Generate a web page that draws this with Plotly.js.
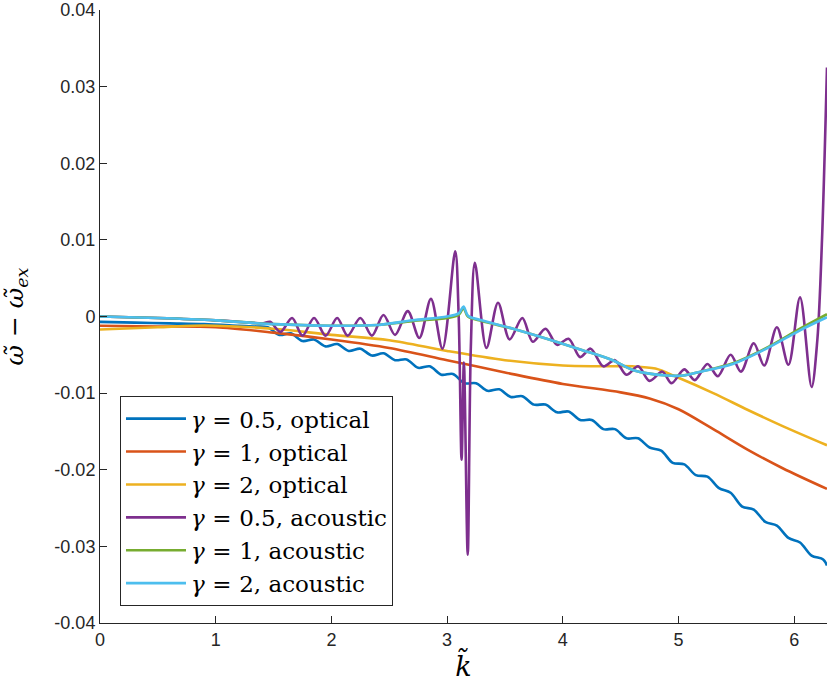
<!DOCTYPE html>
<html>
<head>
<meta charset="utf-8">
<script src="https://cdn.plot.ly/plotly-3.0.1.min.js"></script>
<style>html,body{margin:0;padding:0;background:#fff}#chart{width:830px;height:688px}</style>
</head>
<body>
<div id="chart"></div>
<script>
// gamma = 0.5, optical
const kBlue = [0, 0.3, 0.6, 0.9, 1.2, 1.35, 1.45, 1.55, 1.65, 1.75, 1.85, 1.95, 2.05, 2.15, 2.25, 2.35, 2.45, 2.55, 2.65, 2.75, 2.85, 2.95, 3.05, 3.15, 3.25, 3.35, 3.45, 3.55, 3.65, 3.75, 3.85, 3.95, 4.05, 4.15, 4.25, 4.35, 4.45, 4.55, 4.65, 4.75, 4.85, 4.95, 5.05, 5.15, 5.25, 5.35, 5.45, 5.55, 5.65, 5.75, 5.85, 5.95, 6.05, 6.15, 6.25, 6.283];
const vBlue = [-0.0007, -0.0008, -0.0009, -0.0010, -0.0012, -0.0013, -0.0014, -0.0024, -0.0022, -0.0032, -0.0030, -0.0039, -0.0036, -0.0045, -0.0042, -0.0051, -0.0048, -0.0057, -0.0056, -0.0067, -0.0065, -0.0076, -0.0075, -0.0087, -0.0087, -0.0097, -0.0095, -0.0105, -0.0104, -0.0115, -0.0115, -0.0125, -0.0124, -0.0135, -0.0135, -0.0147, -0.0147, -0.0159, -0.0159, -0.0171, -0.0175, -0.0191, -0.0193, -0.0207, -0.0209, -0.0224, -0.0230, -0.0248, -0.0252, -0.0268, -0.0273, -0.0289, -0.0295, -0.0312, -0.0317, -0.0325];

// gamma = 1, optical
const kRed = [0, 0.5, 1.0, 1.5, 2.0, 2.5, 3.0, 3.5, 4.0, 4.5, 4.75, 5.0, 5.3, 5.6, 5.9, 6.283];
const vRed = [-0.0012, -0.0013, -0.0014, -0.0021, -0.0030, -0.0041, -0.0057, -0.0073, -0.0088, -0.0099, -0.0107, -0.0121, -0.0147, -0.0174, -0.0198, -0.0225];

// gamma = 2, optical
const kOrange = [0, 0.5, 0.8, 1.0, 1.5, 2.0, 2.5, 3.0, 3.5, 4.0, 4.3, 4.6, 4.8, 5.0, 5.3, 5.6, 5.9, 6.283];
const vOrange = [-0.0017, -0.0014, -0.0012, -0.0012, -0.0016, -0.0024, -0.0031, -0.0045, -0.0057, -0.0064, -0.0065, -0.0065, -0.0068, -0.0080, -0.0100, -0.0122, -0.0143, -0.0168];

// gamma = 0.5, acoustic
const kPurple = [0, 0.5, 1.0, 1.3, 1.41, 1.47, 1.56, 1.66, 1.75, 1.85, 1.95, 2.05, 2.14, 2.25, 2.35, 2.45, 2.55, 2.66, 2.76, 2.86, 2.96, 3.07, 3.10, 3.125, 3.145, 3.178, 3.205, 3.24, 3.34, 3.44, 3.54, 3.65, 3.74, 3.85, 3.95, 4.05, 4.15, 4.24, 4.35, 4.45, 4.55, 4.65, 4.75, 4.86, 4.94, 5.05, 5.14, 5.25, 5.34, 5.45, 5.54, 5.65, 5.74, 5.85, 5.95, 6.05, 6.15, 6.2, 6.24, 6.283];
const vPurple = [0, -0.0002, -0.0005, -0.0008, -0.0009, -0.0007, -0.0020, -0.0002, -0.0025, -0.0002, -0.0025, -0.0002, -0.0025, -0.0002, -0.0025, 0.0002, -0.0024, 0.0007, -0.0028, 0.0023, -0.0042, 0.0085, 0.0000, -0.0187, -0.0060, -0.0311, -0.0040, 0.0070, -0.0041, 0.0018, -0.0030, -0.0002, -0.0033, -0.0016, -0.0037, -0.0029, -0.0053, -0.0042, -0.0065, -0.0057, -0.0076, -0.0065, -0.0084, -0.0072, -0.0087, -0.0069, -0.0083, -0.0062, -0.0078, -0.0050, -0.0072, -0.0035, -0.0064, -0.0014, -0.0063, 0.0025, -0.0092, -0.0030, 0.0100, 0.0325];

// gamma = 1, acoustic
const kGreen = [0, 0.5, 1.0, 1.5, 2.0, 2.4, 2.7, 3.0, 3.1, 3.1416, 3.18, 3.3, 3.57, 3.86, 4.15, 4.43, 4.61, 4.9, 5.04, 5.19, 5.47, 5.76, 6.05, 6.283];
const vGreen = [0, -0.0002, -0.0005, -0.0010, -0.0012, -0.0011, -0.0006, -0.0002, 0.0002, 0.0011, 0.0000, -0.0006, -0.0016, -0.0029, -0.0043, -0.0057, -0.0070, -0.0077, -0.0077, -0.0072, -0.0061, -0.0041, -0.0016, 0.0003];

// gamma = 2, acoustic
const kCyan = [0, 0.5, 1.0, 1.5, 2.0, 2.4, 2.7, 3.0, 3.1, 3.1416, 3.18, 3.3, 3.57, 3.86, 4.15, 4.43, 4.61, 4.9, 5.04, 5.19, 5.47, 5.76, 6.05, 6.283];
const vCyan = [0, -0.0002, -0.0005, -0.0010, -0.0012, -0.0011, -0.0005, 0.0000, 0.0004, 0.0013, 0.0001, -0.0005, -0.0016, -0.0029, -0.0043, -0.0057, -0.0070, -0.0077, -0.0077, -0.0072, -0.0062, -0.0042, -0.0018, -0.0001];

const sp = "\u2004";
const seriesNames = [
  "<i>γ</i>" + sp + "=" + sp + "0.5, optical",
  "<i>γ</i>" + sp + "=" + sp + "1, optical",
  "<i>γ</i>" + sp + "=" + sp + "2, optical",
  "<i>γ</i>" + sp + "=" + sp + "0.5, acoustic",
  "<i>γ</i>" + sp + "=" + sp + "1, acoustic",
  "<i>γ</i>" + sp + "=" + sp + "2, acoustic"
];
const seriesColors = ["#0072BD", "#D95319", "#EDB120", "#7E2F8E", "#77AC30", "#4DBEEE"];

const xTickVals = [0, 1, 2, 3, 4, 5, 6];
const xTickText = ["0", "1", "2", "3", "4", "5", "6"];
const yTickVals = [0.04, 0.03, 0.02, 0.01, 0, -0.01, -0.02, -0.03, -0.04];
const yTickText = ["0.04", "0.03", "0.02", "0.01", "0", "-0.01", "-0.02", "-0.03", "-0.04"];

const xs = [kBlue, kRed, kOrange, kPurple, kGreen, kCyan];
const ys = [vBlue, vRed, vOrange, vPurple, vGreen, vCyan];

const traces = xs.map((x, i) => ({
  x: x, y: ys[i], type: "scatter", mode: "lines",
  name: seriesNames[i],
  line: {color: seriesColors[i], width: 2.6, shape: "spline", smoothing: 0.9}
}));

const axisColor = "#262626";
const layout = {
  width: 830, height: 688,
  margin: {l: 100, r: 3, t: 10, b: 65},
  paper_bgcolor: "#fff", plot_bgcolor: "#fff",
  showlegend: true,
  xaxis: {
    range: [0, 2 * Math.PI], tickvals: xTickVals, ticktext: xTickText,
    ticks: "inside", ticklen: 7, tickcolor: axisColor, tickwidth: 1,
    showline: true, linecolor: axisColor, linewidth: 1, mirror: false,
    showgrid: false, zeroline: false, ticklabeloverflow: "allow",
    tickfont: {family: "Liberation Sans, Arial, sans-serif", size: 18, color: axisColor},
    title: {text: "<i>k̃</i>", font: {family: "DejaVu Serif, serif", size: 27, color: "#000"}, standoff: 8}
  },
  yaxis: {
    range: [-0.04, 0.04], tickvals: yTickVals, ticktext: yTickText,
    ticks: "inside", ticklen: 7, tickcolor: axisColor, tickwidth: 1,
    showline: true, linecolor: axisColor, linewidth: 1, mirror: false,
    showgrid: false, zeroline: false, ticklabeloverflow: "allow",
    tickfont: {family: "Liberation Sans, Arial, sans-serif", size: 18, color: axisColor},
    title: {text: "<i>ω̃</i> − <i>ω̃</i><sub><i>ex</i></sub>", font: {family: "DejaVu Serif, serif", size: 25, color: "#000"}, standoff: 24}
  },
  legend: {
    x: 0.0275, y: 0.37, xanchor: "left", yanchor: "top",
    bgcolor: "#fff", bordercolor: "#262626", borderwidth: 1,
    font: {family: "DejaVu Serif, serif", size: 23, color: "#000"},
    itemwidth: 60, tracegroupgap: 0
  }
};

Plotly.newPlot("chart", traces, layout, {staticPlot: true, displayModeBar: false});
</script>
</body>
</html>
